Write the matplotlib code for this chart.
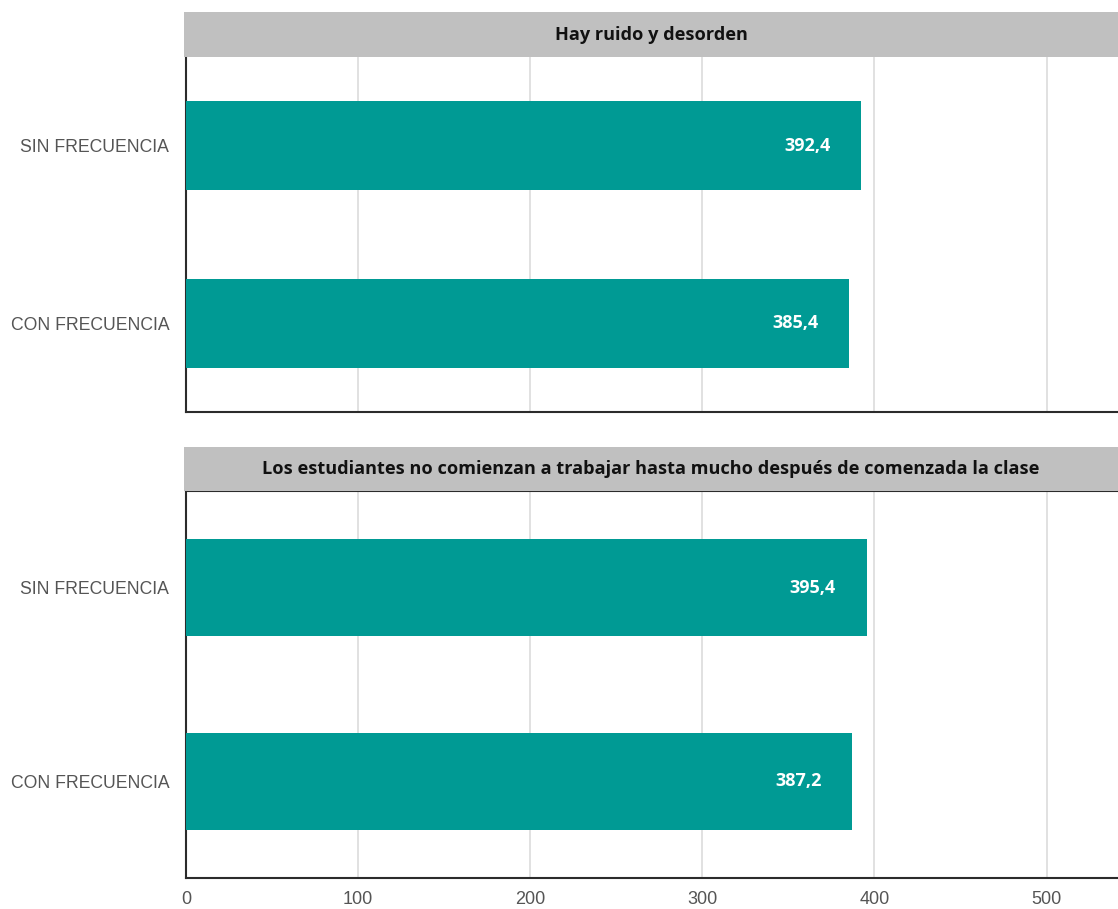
import matplotlib
matplotlib.use("Agg")
import matplotlib.pyplot as plt
from matplotlib.patches import Rectangle

# Data
panel_titles = [
    "Hay ruido y desorden",
    "Los estudiantes no comienzan a trabajar hasta mucho después de comenzada la clase",
]
categories = ["SIN FRECUENCIA", "CON FRECUENCIA"]
values_ruido = [392.4, 385.4]
values_trabajo = [395.4, 387.2]
x_ticks = [0, 100, 200, 300, 400, 500]

BAR_COLOR = "#009a94"
HEADER_COLOR = "#c0c0c0"
SPINE_COLOR = "#2b2b2b"
GRID_COLOR = "#dcdcdc"
LABEL_COLOR = "#555555"

W, H = 1118, 909
fig = plt.figure(figsize=(W / 100, H / 100), dpi=100)


def fx(px):
    return px / W


def fy(py):
    return 1 - py / H


# (header top, header bottom, axes bottom) in pixel rows
layouts = [(12, 57, 412), (447, 491, 878)]
left_px = 186
series = [values_ruido, values_trabajo]

title_font = ["Open Sans", "DejaVu Sans"]
tick_font = ["Liberation Sans", "DejaVu Sans"]

for i, (title, vals, (h_top, h_bot, a_bot)) in enumerate(zip(panel_titles, series, layouts)):
    ax = fig.add_axes([fx(left_px), fy(a_bot), 1 - fx(left_px), fy(h_bot) - fy(a_bot)])
    ypos = list(range(len(categories)))
    ax.barh(ypos, vals, height=0.5, color=BAR_COLOR, zorder=3)
    ax.set_ylim(len(categories) - 0.5, -0.5)
    ax.set_xlim(0, 541.5)
    ax.set_yticks(ypos)
    ax.set_yticklabels(categories, fontsize=12.7, color=LABEL_COLOR, family=tick_font)
    ax.set_xticks(x_ticks)
    if i == len(series) - 1:
        ax.set_xticklabels([str(t) for t in x_ticks], fontsize=13, color=LABEL_COLOR, family=tick_font)
    else:
        ax.set_xticklabels([])
    ax.tick_params(axis="y", length=0, pad=12)
    ax.tick_params(axis="x", length=0, pad=9)
    ax.xaxis.grid(True, color=GRID_COLOR, linewidth=1.2, zorder=0)
    ax.set_axisbelow(True)
    ax.spines["right"].set_visible(False)
    ax.spines["top"].set_visible(i == 1)
    for side in ["left", "bottom", "top"]:
        ax.spines[side].set_color(SPINE_COLOR)
        ax.spines[side].set_linewidth(1.5)
    for y, v in zip(ypos, vals):
        ax.annotate(f"{v:.1f}".replace(".", ","), xy=(v, y), xytext=(-22, 0),
                    textcoords="offset points", ha="right", va="center",
                    color="white", fontsize=13, fontweight="bold", family=title_font,
                    zorder=4)

    # Panel header strip
    hx0 = fx(184)
    fig.patches.append(Rectangle((hx0, fy(h_bot)), 1 - hx0, fy(h_top) - fy(h_bot),
                                 transform=fig.transFigure, facecolor=HEADER_COLOR,
                                 edgecolor="none", zorder=0))
    fig.text((hx0 + 1) / 2, (fy(h_top) + fy(h_bot)) / 2, title, ha="center", va="center",
             fontsize=13.1, fontweight="bold", color="#111111", family=title_font)

fig.savefig("out.png", dpi=100)
